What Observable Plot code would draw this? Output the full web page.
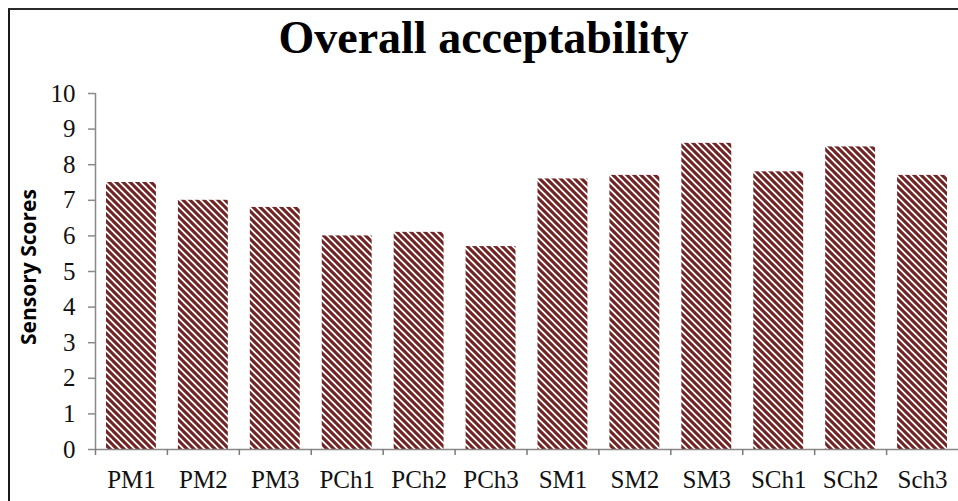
<!DOCTYPE html>
<html>
<head>
<meta charset="utf-8">
<script src="https://cdn.jsdelivr.net/npm/d3@7"></script>
<script src="https://cdn.jsdelivr.net/npm/@observablehq/plot@0.6"></script>
<style>
  html, body { margin: 0; padding: 0; background: #fff; width: 958px; height: 501px; overflow: hidden; }
  #frame { position: absolute; left: 8px; top: 8px; width: 960px; height: 500px;
           border-top: 2px solid #2a2a2a; border-left: 2px solid #1a1a1a; }
  #title { position: absolute; left: 9px; top: 13px; width: 949px; text-align: center;
           font-family: "Liberation Serif", "Times New Roman", serif; font-weight: bold;
           font-size: 46px; line-height: 50px; color: #000; }
  #chart { position: absolute; left: 0; top: 80px; }
  #ylabel { position: absolute; left: 28px; top: 267px; transform: translate(-50%, -50%) rotate(-90deg);
            font-family: "Open Sans", sans-serif; font-weight: 700; font-size: 21px; white-space: nowrap; color: #000; }
</style>
</head>
<body>
<svg width="0" height="0" style="position:absolute">
  <defs>
    <pattern id="stripes" patternUnits="userSpaceOnUse" width="7" height="7">
      <rect width="7" height="7" fill="#ffffff"></rect>
      <path d="M-1,-1 L8,8 M-4.5,2.5 L1,8 M2.5,-4.5 L8,1" stroke="#722424" stroke-width="3.1"></path>
    </pattern>
  </defs>
</svg>
<div id="frame"></div>
<div id="title">Overall acceptability</div>
<div id="ylabel">Sensory Scores</div>
<div id="chart"></div>
<script>
const categories = ["PM1", "PM2", "PM3", "PCh1", "PCh2", "PCh3", "SM1", "SM2", "SM3", "SCh1", "SCh2", "Sch3"];
const scores = [7.5, 7.0, 6.8, 6.0, 6.1, 5.7, 7.6, 7.7, 8.6, 7.8, 8.5, 7.7];
const yTicks = [0, 1, 2, 3, 4, 5, 6, 7, 8, 9, 10];

const data = categories.map((c, i) => ({category: c, score: scores[i]}));

const width = 958, marginLeft = 95, marginRight = 0;
const step = (width - marginLeft - marginRight) / categories.length;
const serif = "Liberation Serif, Times New Roman, serif";

const chart = Plot.plot({
  width,
  height: 421,
  marginTop: 13,
  marginBottom: 52,
  marginLeft,
  marginRight,
  style: {background: "transparent", fontFamily: serif},
  x: {domain: categories, padding: 0, round: false, label: null},
  y: {domain: [0, 10], label: null},
  marks: [
    Plot.barY(data, {x: "category", y: "score", fill: "url(#stripes)", insetLeft: 11, insetRight: 11}),
    Plot.ruleY([0], {stroke: "#898989", strokeWidth: 1.5}),
    Plot.ruleX([categories[0]], {dx: -step / 2, y1: 0, y2: 10, stroke: "#898989", strokeWidth: 1.5}),
    Plot.axisX({tickSize: 6, dx: -step / 2, tickFormat: () => "", stroke: "#7a7a7a", strokeWidth: 1.5, strokeOpacity: 1}),
    Plot.axisX({tickSize: 0, tickPadding: 21, fontSize: 25, fill: "#111", label: null}),
    Plot.axisY({ticks: yTicks, tickSize: 7, tickPadding: 13, fontSize: 25, fill: "#111", stroke: "#898989", strokeWidth: 1.5, strokeOpacity: 1, label: null})
  ]
});
document.getElementById("chart").appendChild(chart);
</script>
</body>
</html>
